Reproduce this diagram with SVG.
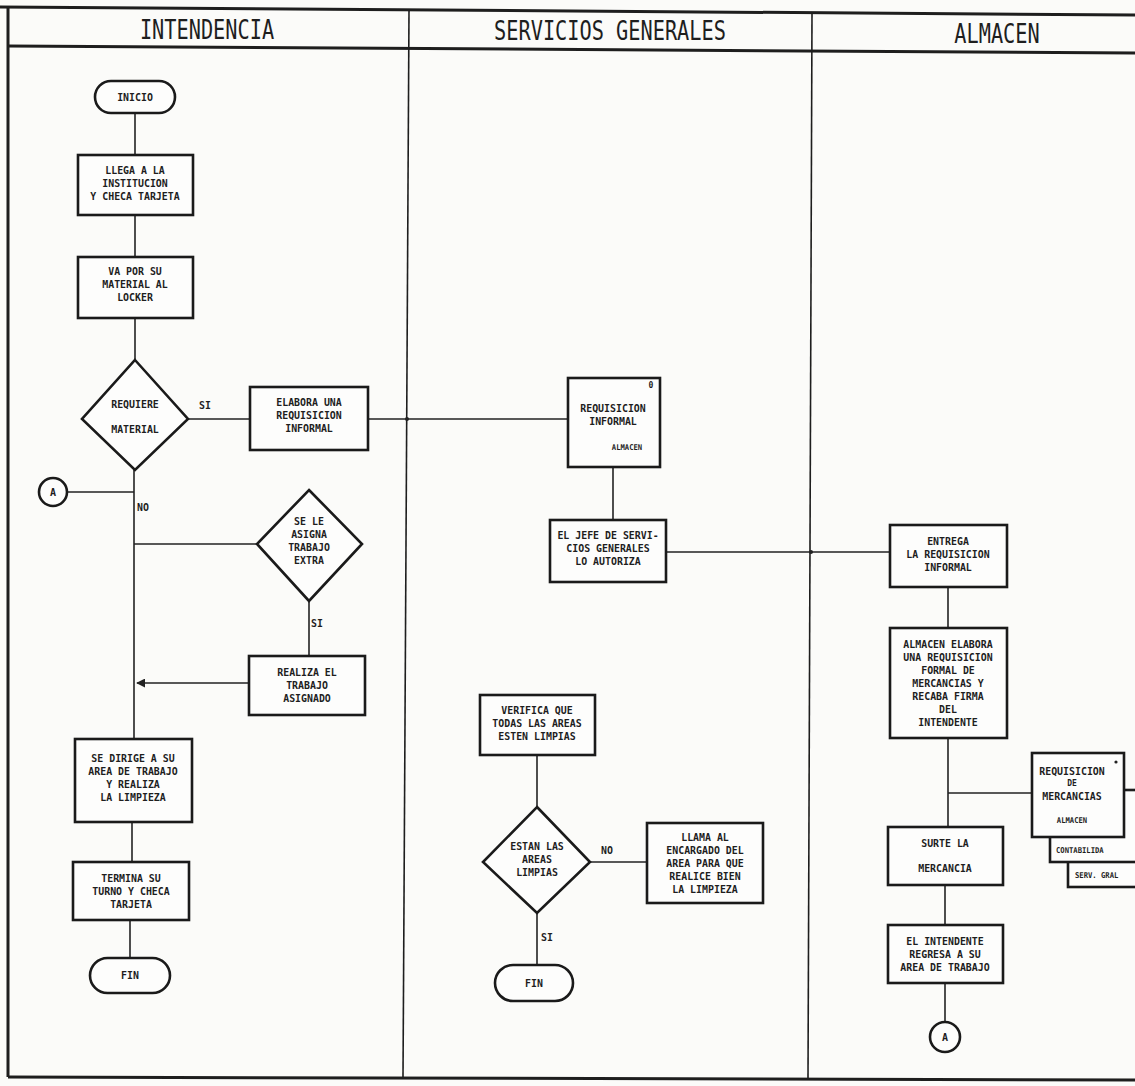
<svg xmlns="http://www.w3.org/2000/svg" width="1135" height="1086" viewBox="0 0 1135 1086">
<style>
.bg{fill:#fbfbf9}
.frame{stroke:#1e1e1e;stroke-width:3;fill:none}
.div{stroke:#1e1e1e;stroke-width:1.6;fill:none}
.box{fill:#fdfdfc;stroke:#1a1a1a;stroke-width:2.6}
.c line,.c polyline{stroke:#222;stroke-width:1.6;fill:none}
.t{font-family:"DejaVu Sans Mono","Liberation Mono",monospace;font-weight:bold;font-size:11px;text-anchor:middle;fill:#1e1e1e}
.s{font-size:8px}
.h{font-family:"DejaVu Sans Mono","Liberation Mono",monospace;font-size:26px;text-anchor:middle;fill:#1e1e1e}
</style>
<defs>
<marker id="ah" viewBox="0 0 10 10" refX="9" refY="5" markerWidth="9" markerHeight="9" orient="auto" markerUnits="userSpaceOnUse">
<path d="M0,0 L10,5 L0,10 z" fill="#222"/>
</marker>
</defs>
<rect class="bg" x="0" y="0" width="1135" height="1086"/>
<g id="frame">
<line class="frame" x1="0" y1="7" x2="1135" y2="15"/>
<line class="frame" x1="8" y1="46" x2="1135" y2="53"/>
<line class="frame" x1="8" y1="1077" x2="1135" y2="1080"/>
<line class="frame" x1="8" y1="7" x2="8" y2="1077"/>
<line class="div" x1="409" y1="10" x2="403" y2="1078"/>
<line class="div" x1="812" y1="13" x2="808" y2="1079"/>
<text class="h" transform="translate(207 39) scale(0.78 1)">INTENDENCIA</text>
<text class="h" transform="translate(610 40) scale(0.78 1)">SERVICIOS GENERALES</text>
<text class="h" transform="translate(997 43) scale(0.78 1)">ALMACEN</text>
</g>
<g class="c" id="connectors">
<line x1="135" y1="113" x2="135" y2="155"/>
<line x1="135" y1="215" x2="135" y2="257"/>
<line x1="135" y1="318" x2="135" y2="360"/>
<line x1="188" y1="419" x2="250" y2="419"/>
<line x1="368" y1="419" x2="568" y2="419"/>
<line x1="134" y1="470" x2="134" y2="739"/>
<line x1="68" y1="492" x2="134" y2="492"/>
<line x1="134" y1="544" x2="257" y2="544"/>
<line x1="309" y1="601" x2="309" y2="656"/>
<line x1="249" y1="683" x2="137" y2="683" marker-end="url(#ah)"/>
<line x1="132" y1="822" x2="132" y2="862"/>
<line x1="130" y1="920" x2="130" y2="958"/>
<line x1="613" y1="467" x2="613" y2="520"/>
<line x1="666" y1="552" x2="890" y2="552"/>
<line x1="537" y1="755" x2="537" y2="807"/>
<line x1="590" y1="862" x2="647" y2="862"/>
<line x1="537" y1="913" x2="537" y2="965"/>
<line x1="948" y1="587" x2="948" y2="628"/>
<line x1="948" y1="738" x2="948" y2="827"/>
<line x1="948" y1="793" x2="1032" y2="793"/>
<line x1="945" y1="885" x2="945" y2="925"/>
<line x1="945" y1="983" x2="945" y2="1021"/>
<circle cx="407" cy="419" r="2" fill="#222"/>
<circle cx="811" cy="552" r="2" fill="#222"/>
</g>
<g id="inicio"><rect class="box" x="95" y="81" width="80" height="32" rx="16"/><text class="t" transform="translate(135 101) scale(0.9 1)">INICIO</text></g>
<g id="llega"><rect class="box" x="78" y="155" width="115" height="60"/><text class="t" transform="translate(135 174) scale(0.9 1)"><tspan x="0">LLEGA A LA</tspan><tspan x="0" dy="13">INSTITUCION</tspan><tspan x="0" dy="13">Y CHECA TARJETA</tspan></text></g>
<g id="va-por"><rect class="box" x="78" y="257" width="115" height="61"/><text class="t" transform="translate(135 275) scale(0.9 1)"><tspan x="0">VA POR SU</tspan><tspan x="0" dy="13">MATERIAL AL</tspan><tspan x="0" dy="13">LOCKER</tspan></text></g>
<g id="requiere"><polygon class="box" points="135,360 188,419 135,470 82,419"/><text class="t" transform="translate(135 408) scale(0.9 1)"><tspan x="0">REQUIERE</tspan><tspan x="0" dy="25">MATERIAL</tspan></text>
<text class="t" transform="translate(205 409) scale(0.9 1)">SI</text><text class="t" transform="translate(143 511) scale(0.9 1)">NO</text></g>
<g id="elabora"><rect class="box" x="250" y="387" width="118" height="63"/><text class="t" transform="translate(309 406) scale(0.9 1)"><tspan x="0">ELABORA UNA</tspan><tspan x="0" dy="13">REQUISICION</tspan><tspan x="0" dy="13">INFORMAL</tspan></text></g>
<g id="conector-a1"><circle class="box" cx="53" cy="492" r="14"/><text class="t" x="53" y="496" style="font-size:10px">A</text></g>
<g id="se-le-asigna"><polygon class="box" points="309,490 362,544 309,601 257,544"/><text class="t" transform="translate(309 525) scale(0.9 1)"><tspan x="0">SE LE</tspan><tspan x="0" dy="13">ASIGNA</tspan><tspan x="0" dy="13">TRABAJO</tspan><tspan x="0" dy="13">EXTRA</tspan></text>
<text class="t" transform="translate(317 627) scale(0.9 1)">SI</text></g>
<g id="realiza"><rect class="box" x="249" y="656" width="116" height="59"/><text class="t" transform="translate(307 676) scale(0.9 1)"><tspan x="0">REALIZA EL</tspan><tspan x="0" dy="13">TRABAJO</tspan><tspan x="0" dy="13">ASIGNADO</tspan></text></g>
<g id="se-dirige"><rect class="box" x="75" y="739" width="117" height="83"/><text class="t" transform="translate(133 762) scale(0.9 1)"><tspan x="0">SE DIRIGE A SU</tspan><tspan x="0" dy="13">AREA DE TRABAJO</tspan><tspan x="0" dy="13">Y REALIZA</tspan><tspan x="0" dy="13">LA LIMPIEZA</tspan></text></g>
<g id="termina"><rect class="box" x="73" y="862" width="116" height="58"/><text class="t" transform="translate(131 882) scale(0.9 1)"><tspan x="0">TERMINA SU</tspan><tspan x="0" dy="13">TURNO Y CHECA</tspan><tspan x="0" dy="13">TARJETA</tspan></text></g>
<g id="fin1"><rect class="box" x="90" y="958" width="80" height="35" rx="17.5"/><text class="t" transform="translate(130 979) scale(0.9 1)">FIN</text></g>
<g id="req-informal"><rect class="box" x="568" y="378" width="92" height="89"/><text class="t" transform="translate(613 412) scale(0.9 1)"><tspan x="0">REQUISICION</tspan><tspan x="0" dy="13">INFORMAL</tspan></text><text class="t s" transform="translate(627 450) scale(0.9 1)">ALMACEN</text><text class="t s" x="651" y="388">0</text></g>
<g id="jefe"><rect class="box" x="550" y="520" width="116" height="62"/><text class="t" transform="translate(608 539) scale(0.9 1)"><tspan x="0">EL JEFE DE SERVI-</tspan><tspan x="0" dy="13">CIOS GENERALES</tspan><tspan x="0" dy="13">LO AUTORIZA</tspan></text></g>
<g id="verifica"><rect class="box" x="480" y="695" width="115" height="60"/><text class="t" transform="translate(537 714) scale(0.9 1)"><tspan x="0">VERIFICA QUE</tspan><tspan x="0" dy="13">TODAS LAS AREAS</tspan><tspan x="0" dy="13">ESTEN LIMPIAS</tspan></text></g>
<g id="estan"><polygon class="box" points="537,807 590,862 537,913 483,862"/><text class="t" transform="translate(537 850) scale(0.9 1)"><tspan x="0">ESTAN LAS</tspan><tspan x="0" dy="13">AREAS</tspan><tspan x="0" dy="13">LIMPIAS</tspan></text>
<text class="t" transform="translate(607 854) scale(0.9 1)">NO</text><text class="t" transform="translate(547 941) scale(0.9 1)">SI</text></g>
<g id="llama"><rect class="box" x="647" y="823" width="116" height="80"/><text class="t" transform="translate(705 841) scale(0.9 1)"><tspan x="0">LLAMA AL</tspan><tspan x="0" dy="13">ENCARGADO DEL</tspan><tspan x="0" dy="13">AREA PARA QUE</tspan><tspan x="0" dy="13">REALICE BIEN</tspan><tspan x="0" dy="13">LA LIMPIEZA</tspan></text></g>
<g id="fin2"><rect class="box" x="495" y="965" width="78" height="36" rx="18"/><text class="t" transform="translate(534 987) scale(0.9 1)">FIN</text></g>
<g id="entrega"><rect class="box" x="890" y="525" width="117" height="62"/><text class="t" transform="translate(948 545) scale(0.9 1)"><tspan x="0">ENTREGA</tspan><tspan x="0" dy="13">LA REQUISICION</tspan><tspan x="0" dy="13">INFORMAL</tspan></text></g>
<g id="almacen-elabora"><rect class="box" x="890" y="628" width="117" height="110"/><text class="t" transform="translate(948 648) scale(0.9 1)"><tspan x="0">ALMACEN ELABORA</tspan><tspan x="0" dy="13">UNA REQUISICION</tspan><tspan x="0" dy="13">FORMAL DE</tspan><tspan x="0" dy="13">MERCANCIAS Y</tspan><tspan x="0" dy="13">RECABA FIRMA</tspan><tspan x="0" dy="13">DEL</tspan><tspan x="0" dy="13">INTENDENTE</tspan></text></g>
<g id="req-mercancias">
<rect class="box" x="1068" y="800" width="90" height="87"/>
<text class="t s" transform="translate(1075 878) scale(0.9 1)" style="text-anchor:start">SERV. GRAL</text>
<rect class="box" x="1050" y="790" width="100" height="72"/>
<line x1="1127" y1="790" x2="1134" y2="790" stroke="#222" stroke-width="1.5"/>
<text class="t s" transform="translate(1056 853) scale(0.9 1)" style="text-anchor:start">CONTABILIDA</text>
<rect class="box" x="1032" y="753" width="92" height="84"/>
<text class="t" transform="translate(1072 775) scale(0.9 1)">REQUISICION</text>
<text class="t s" x="1072" y="786">DE</text>
<text class="t" transform="translate(1072 800) scale(0.9 1)">MERCANCIAS</text>
<text class="t s" transform="translate(1072 823) scale(0.9 1)">ALMACEN</text>
<circle cx="1116" cy="762" r="1.6" fill="#222"/>
</g>
<g id="surte"><rect class="box" x="888" y="827" width="115" height="58"/><text class="t" transform="translate(945 847) scale(0.9 1)"><tspan x="0">SURTE LA</tspan><tspan x="0" dy="25">MERCANCIA</tspan></text></g>
<g id="intendente-regresa"><rect class="box" x="888" y="925" width="115" height="58"/><text class="t" transform="translate(945 945) scale(0.9 1)"><tspan x="0">EL INTENDENTE</tspan><tspan x="0" dy="13">REGRESA A SU</tspan><tspan x="0" dy="13">AREA DE TRABAJO</tspan></text></g>
<g id="conector-a2"><circle class="box" cx="945" cy="1037" r="15"/><text class="t" x="945" y="1041" style="font-size:10px">A</text></g>
</svg>
